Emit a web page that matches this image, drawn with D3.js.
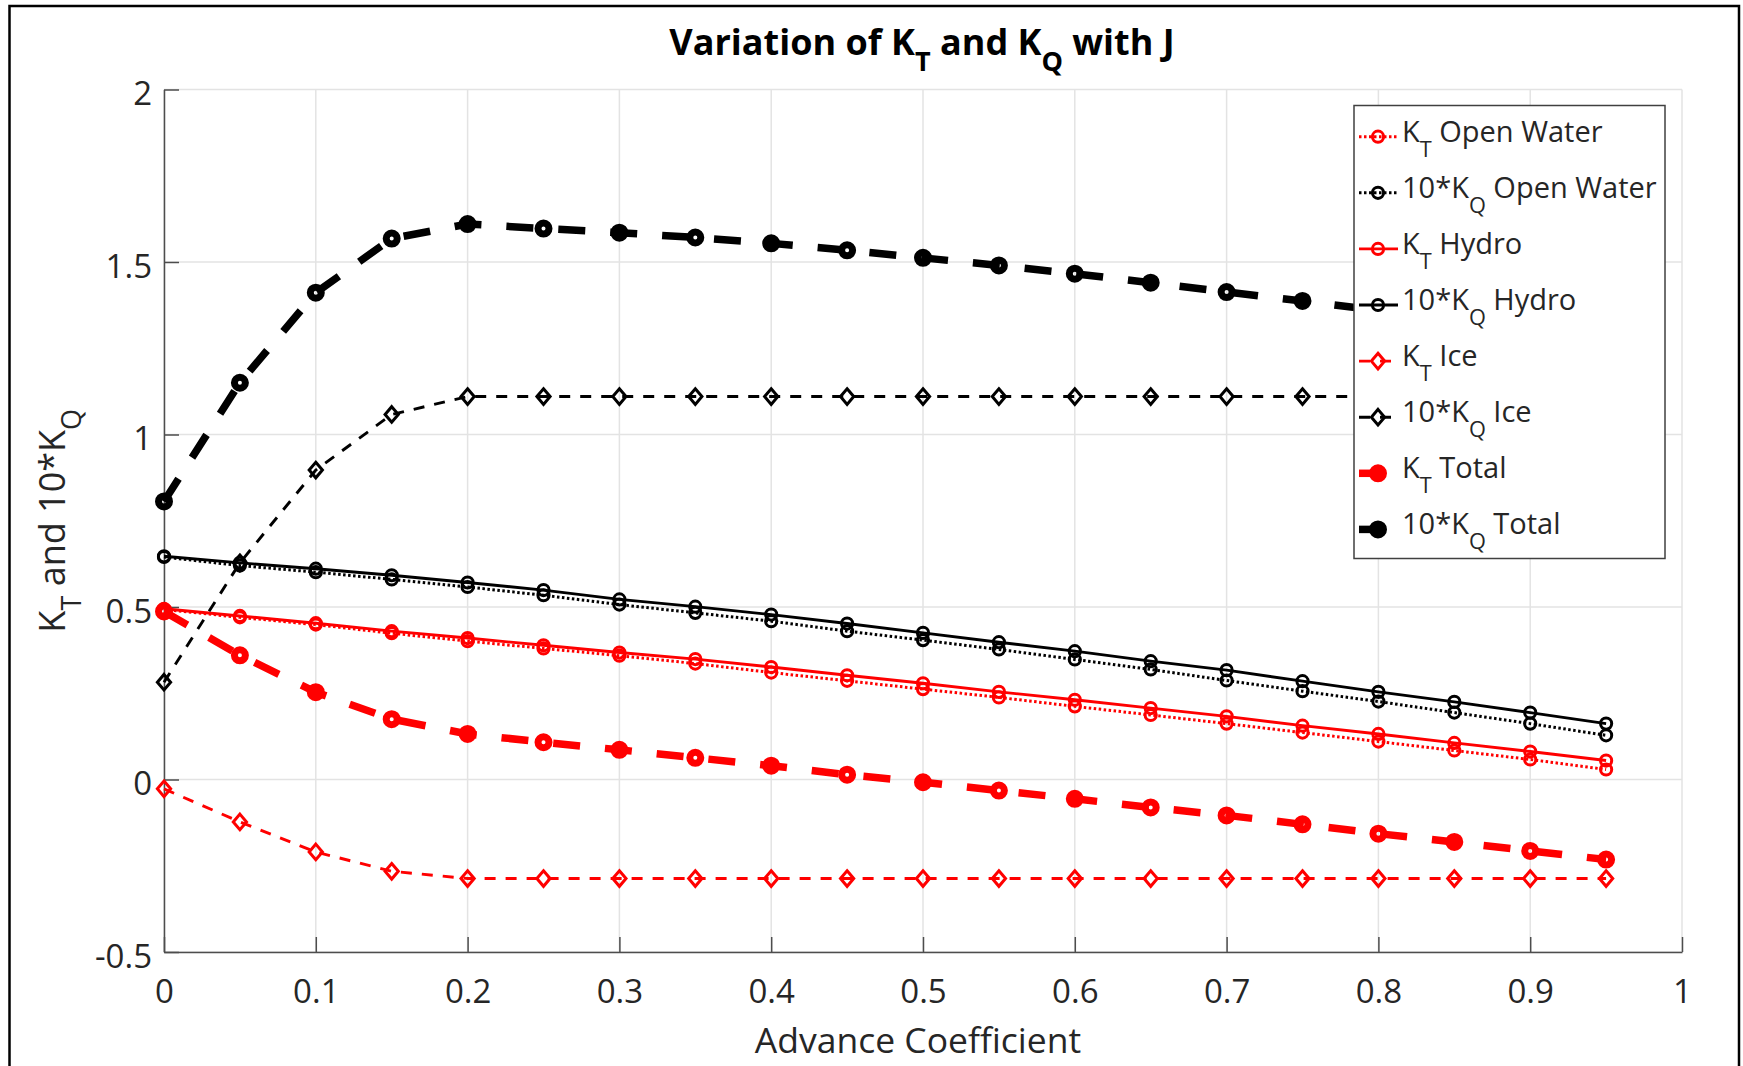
<!DOCTYPE html>
<html>
<head>
<meta charset="utf-8">
<script src="https://cdn.jsdelivr.net/npm/d3@7"></script>
<style>
  body { margin: 0; background: #fff; }
  svg { display: block; }
  text { font-family: "Open Sans", "Noto Sans", sans-serif; fill: #262626; }
</style>
</head>
<body>
<svg id="chart"></svg>
<script>
const svgWidth = 1743,
  svgHeight = 1066,
  plot = {left: 164, right: 1682, top: 89.5, bottom: 952}

// advance coefficient J
const advanceCoef = [0, 0.05, 0.1, 0.15, 0.2, 0.25, 0.3, 0.35, 0.4, 0.45, 0.5, 0.55, 0.6, 0.65, 0.7, 0.75, 0.8, 0.85, 0.9, 0.95]

const ktOpenWater = [0.493, 0.470, 0.449, 0.424, 0.401, 0.380, 0.359, 0.336, 0.310, 0.286, 0.262, 0.238, 0.212, 0.187, 0.162, 0.136, 0.110, 0.084, 0.058, 0.029]
const kqOpenWater10 = [0.645, 0.620, 0.601, 0.580, 0.558, 0.534, 0.507, 0.483, 0.459, 0.430, 0.404, 0.377, 0.348, 0.319, 0.287, 0.256, 0.226, 0.194, 0.162, 0.128]
const ktHydro = [0.495, 0.474, 0.453, 0.430, 0.410, 0.389, 0.368, 0.349, 0.326, 0.302, 0.279, 0.254, 0.231, 0.207, 0.183, 0.156, 0.132, 0.106, 0.081, 0.055]
const kqHydro10 = [0.647, 0.628, 0.611, 0.592, 0.571, 0.549, 0.522, 0.501, 0.478, 0.452, 0.425, 0.398, 0.372, 0.343, 0.317, 0.285, 0.254, 0.225, 0.194, 0.162]
const ktIce = [-0.027, -0.123, -0.210, -0.266, -0.287, -0.287, -0.287, -0.287, -0.287, -0.287, -0.287, -0.287, -0.287, -0.287, -0.287, -0.287, -0.287, -0.287, -0.287, -0.287]
const kqIce10 = [0.282, 0.628, 0.897, 1.058, 1.110, 1.110, 1.110, 1.110, 1.110, 1.110, 1.110, 1.110, 1.110, 1.110, 1.110, 1.110, 1.110, 1.110, 1.110, 1.110]
const ktTotal = [0.487, 0.360, 0.253, 0.175, 0.132, 0.108, 0.086, 0.063, 0.040, 0.014, -0.008, -0.032, -0.056, -0.081, -0.104, -0.130, -0.157, -0.181, -0.207, -0.232]
const kqTotal10 = [0.806, 1.150, 1.411, 1.568, 1.610, 1.597, 1.585, 1.571, 1.554, 1.534, 1.512, 1.490, 1.466, 1.440, 1.413, 1.387, 1.360, 1.332, 1.303, 1.273]

const seriesLabels = ['K_T Open Water', '10*K_Q Open Water', 'K_T Hydro', '10*K_Q Hydro',
  'K_T Ice', '10*K_Q Ice', 'K_T Total', '10*K_Q Total']

const xTicks = [0, 0.1, 0.2, 0.3, 0.4, 0.5, 0.6, 0.7, 0.8, 0.9, 1]
const yTicks = [-0.5, 0, 0.5, 1, 1.5, 2]

const titleText = 'Variation of K_T and K_Q with J'
const xLabelText = 'Advance Coefficient'
const yLabelText = 'K_T and 10*K_Q'

// line styles, same order as the labels
const styles = [
  {color: 'red', width: 3, dash: '2.5,2.5', marker: 'circle', r: 5.6, mw: 3},
  {color: 'black', width: 3, dash: '2.5,2.5', marker: 'circle', r: 5.6, mw: 3},
  {color: 'red', width: 2.9, dash: null, marker: 'circle', r: 5.6, mw: 3},
  {color: 'black', width: 2.9, dash: null, marker: 'circle', r: 5.6, mw: 3},
  {color: 'red', width: 2.9, dash: '11,10', marker: 'diamond', r: 7.8, mw: 3},
  {color: 'black', width: 2.9, dash: '11,10', marker: 'diamond', r: 7.8, mw: 3},
  {color: 'red', width: 7.5, dash: '27,25', marker: 'circle', r: 5.5, mw: 7},
  {color: 'black', width: 7.5, dash: '27,25', marker: 'circle', r: 5.5, mw: 7},
]
const seriesValues = [ktOpenWater, kqOpenWater10, ktHydro, kqHydro10, ktIce, kqIce10, ktTotal, kqTotal10]

const x = d3.scaleLinear().domain([0, 1]).range([plot.left, plot.right])
const y = d3.scaleLinear().domain([-0.5, 2]).range([plot.bottom, plot.top])

const svg = d3.select('#chart')
  .attr('width', svgWidth)
  .attr('height', svgHeight)

// writes "K_T" style strings with a subscript tspan
function richText(sel, str, size, subShift) {
  const parts = str.split(/_(.)/)
  parts.forEach((p, i) => {
    if (p === '') return
    const sub = i % 2 === 1
    sel.append('tspan')
      .attr('font-size', sub ? size * 0.75 : size)
      .attr('dy', sub ? subShift : (i > 0 ? -subShift : 0))
      .text(p)
  })
}

function drawMarker(g, st, cx, cy) {
  if (st.marker === 'circle') {
    g.append('circle')
      .attr('cx', cx).attr('cy', cy).attr('r', st.r)
      .attr('fill', 'none')
      .attr('stroke', st.color)
      .attr('stroke-width', st.mw)
  } else {
    const r = st.r
    g.append('path')
      .attr('d', `M${cx},${cy - r}L${cx + r * 0.85},${cy}L${cx},${cy + r}L${cx - r * 0.85},${cy}Z`)
      .attr('fill', 'none')
      .attr('stroke', st.color)
      .attr('stroke-width', st.mw)
  }
}

// grid
const grid = svg.append('g').attr('class', 'grid')
grid.selectAll('.vgrid').data(xTicks).enter().append('line')
  .attr('x1', d => x(d)).attr('x2', d => x(d))
  .attr('y1', plot.top).attr('y2', plot.bottom)
  .attr('stroke', '#e3e3e3').attr('stroke-width', 1.5)
grid.selectAll('.hgrid').data(yTicks).enter().append('line')
  .attr('x1', plot.left).attr('x2', plot.right)
  .attr('y1', d => y(d)).attr('y2', d => y(d))
  .attr('stroke', '#e3e3e3').attr('stroke-width', 1.5)

// axes with inward ticks
const xAxis = svg.append('g')
  .attr('transform', `translate(0,${plot.bottom})`)
  .call(d3.axisBottom(x).tickValues(xTicks).tickFormat(d => String(d)).tickSizeInner(-15).tickSizeOuter(0))
xAxis.selectAll('text').attr('y', 51).attr('dy', null).attr('font-size', 33).attr('fill', '#262626')

const yAxis = svg.append('g')
  .attr('transform', `translate(${plot.left},0)`)
  .call(d3.axisLeft(y).tickValues(yTicks).tickFormat(d => String(d)).tickSizeInner(-15).tickSizeOuter(0))
yAxis.selectAll('text').attr('x', -12).attr('y', 15).attr('dy', null).attr('font-size', 33).attr('fill', '#262626')

svg.selectAll('.domain, .tick line').attr('stroke', '#4d4d4d').attr('stroke-width', 1.5)
svg.selectAll('.tick text').style('font-family', '"Open Sans", sans-serif')

// series
const lineGen = d3.line()
  .x((d, i) => x(advanceCoef[i]))
  .y(d => y(d))

const seriesG = svg.append('g').attr('class', 'series')
seriesValues.forEach((vals, k) => {
  const st = styles[k]
  const g = seriesG.append('g')
  g.append('path')
    .datum(vals)
    .attr('d', lineGen)
    .attr('fill', 'none')
    .attr('stroke', st.color)
    .attr('stroke-width', st.width)
    .attr('stroke-dasharray', st.dash)
  vals.forEach((v, i) => drawMarker(g, st, x(advanceCoef[i]), y(v)))
})

// legend
const legend = svg.append('g').attr('class', 'legend')
legend.append('rect')
  .attr('x', 1354).attr('y', 105.5)
  .attr('width', 311).attr('height', 453)
  .attr('fill', 'white')
  .attr('stroke', '#404040').attr('stroke-width', 1.5)

seriesLabels.forEach((lab, k) => {
  const st = styles[k]
  const ly = 136.7 + k * 56.1
  const row = legend.append('g')
  row.append('line')
    .attr('x1', 1359).attr('x2', 1398)
    .attr('y1', ly).attr('y2', ly)
    .attr('stroke', st.color)
    .attr('stroke-width', st.width)
    .attr('stroke-dasharray', st.dash)
  drawMarker(row, st, 1378, ly)
  const t = row.append('text')
    .attr('x', 1402).attr('y', ly + 5)
  richText(t, lab, 29, 15)
})

// title and labels
const title = svg.append('text')
  .attr('x', 922).attr('y', 55)
  .attr('text-anchor', 'middle')
  .attr('font-weight', 'bold')
  .style('fill', '#000')
richText(title, titleText, 36, 16)

svg.append('text')
  .attr('x', 918).attr('y', 1053)
  .attr('text-anchor', 'middle')
  .attr('font-size', 35.5)
  .text(xLabelText)

const yLab = svg.append('text')
  .attr('transform', `translate(65,${(plot.top + plot.bottom) / 2}) rotate(-90)`)
  .attr('text-anchor', 'middle')
richText(yLab, yLabelText, 36, 16)

// figure frame
svg.append('rect')
  .attr('x', 9.5).attr('y', 6)
  .attr('width', 1729.5).attr('height', 1100)
  .attr('fill', 'none')
  .attr('stroke', 'black').attr('stroke-width', 2.5)
</script>
</body>
</html>
